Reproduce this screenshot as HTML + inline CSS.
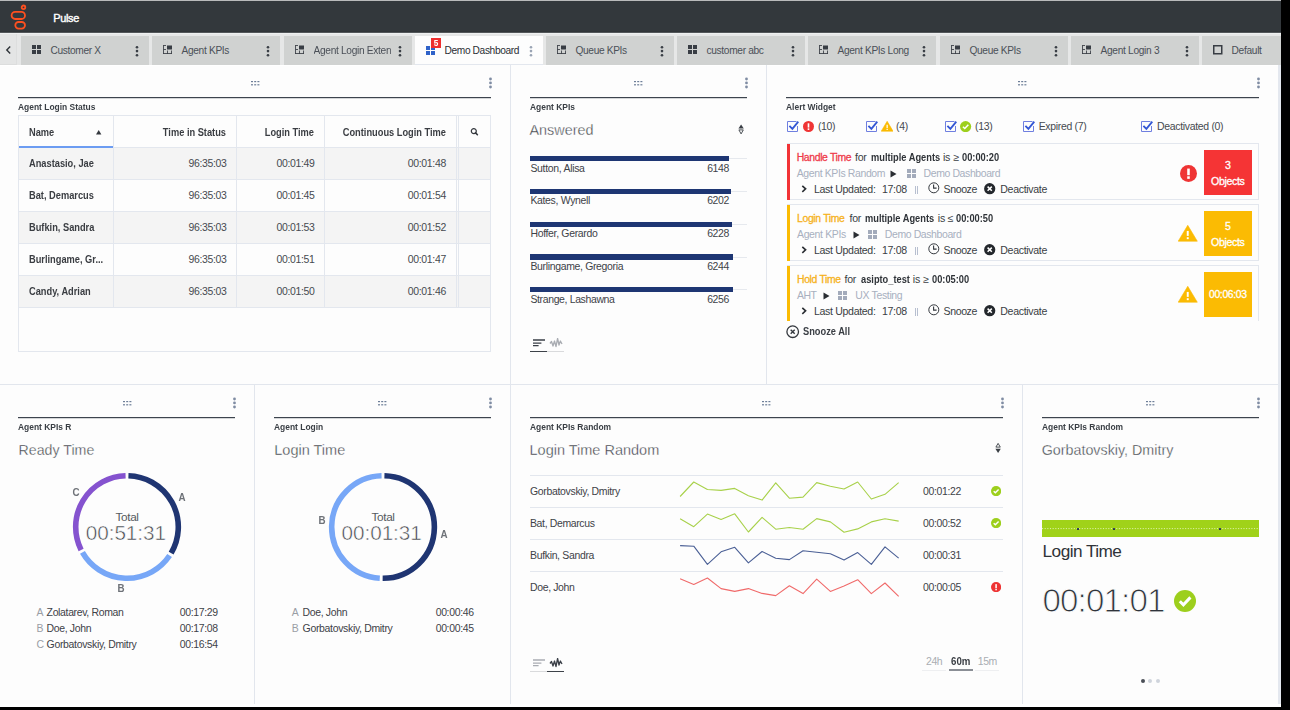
<!DOCTYPE html>
<html><head><meta charset="utf-8"><title>Pulse</title>
<style>
*{margin:0;padding:0;box-sizing:border-box}
html,body{width:1290px;height:710px;overflow:hidden;background:#000}
body{position:relative;font-family:"Liberation Sans",sans-serif}
.a{position:absolute}
.t{position:absolute;white-space:nowrap}
svg{display:block}
</style></head><body>

<div class="a" style="left:0px;top:0px;width:1281px;height:707px;background:#fdfdfd;"></div>
<div class="a" style="left:0px;top:704px;width:1281px;height:3px;background:#ffffff;"></div>
<div class="a" style="left:0px;top:0px;width:1281px;height:1px;background:#b9babb;"></div>
<div class="a" style="left:0px;top:1px;width:1281px;height:30px;background:#33383c;"></div>
<div class="a" style="left:0px;top:31px;width:1281px;height:1px;background:#303538;"></div>
<div class="a" style="left:0px;top:32px;width:1281px;height:1px;background:#53575a;"></div>
<div class="a" style="left:0px;top:33px;width:1281px;height:1px;background:#eef0f0;"></div>
<div class="a" style="left:0px;top:34px;width:1281px;height:31px;background:#e6e7e7;"></div>
<div class="a" style="left:0px;top:34px;width:17px;height:31px;background:#e4e5e5;border-right:1px solid #dddede;border-bottom:1px solid #dcdddd"></div>
<div class="a" style="left:0px;top:65px;width:1281px;height:1px;background:#ffffff;"></div>
<svg class="a" style="left:9px;top:3px;" width="20" height="29" viewBox="0 0 20 29"><g fill="none" stroke="#fe5020" stroke-width="1.8">
<circle cx="14.5" cy="4.3" r="1.8"/>
<rect x="2.6" y="8.9" width="13.4" height="7.1" rx="3.55"/>
<rect x="6.3" y="19" width="9.7" height="6.6" rx="3.3"/>
</g></svg>
<div class="t" style="left:53.30px;top:13.00px;font-size:10.97px;line-height:10.97px;color:#ffffff;letter-spacing:-0.367px;-webkit-text-stroke:0.4px #fff;">Pulse</div>
<svg class="a" style="left:5px;top:45px;" width="8" height="10" viewBox="0 0 8 10"><path d="M5.2 1.6 L1.8 5 L5.2 8.4" fill="none" stroke="#2e3338" stroke-width="1.4"/></svg>
<div class="a" style="left:21px;top:36px;width:128px;height:29px;background:#d0d2d1;"></div>
<svg class="a" style="left:32px;top:45px;" width="10" height="10" viewBox="0 0 10 10"><g fill="#383d44"><rect x="0" y="0" width="4" height="4"/><rect x="5" y="0" width="4" height="4"/><rect x="0" y="5" width="4" height="4"/><rect x="5" y="5" width="4" height="4"/></g></svg>
<div class="t" style="left:50.50px;top:46.00px;font-size:10.19px;line-height:10.19px;color:#4b5058;letter-spacing:-0.346px;">Customer X</div>
<svg class="a" style="left:135px;top:45px;" width="4" height="12" viewBox="0 0 4 12"><g fill="#3a3f46"><circle cx="2" cy="2.2" r="1.3"/><circle cx="2" cy="6.1" r="1.3"/><circle cx="2" cy="10.2" r="1.3"/></g></svg>
<div class="a" style="left:152px;top:36px;width:128px;height:29px;background:#d0d2d1;"></div>
<svg class="a" style="left:163px;top:45px;" width="10" height="10" viewBox="0 0 10 10"><g fill="none" stroke="#383d44" stroke-width="1" opacity="0.85"><path d="M0.5 0 V9 M0.5 0.5 H3 M0.5 4.5 H3 M0 8.5 H9 M4.5 5.5 V9 M8.5 5.5 V9"/></g><rect x="4" y="0.5" width="5" height="4" fill="#383d44"/></svg>
<div class="t" style="left:181.50px;top:46.00px;font-size:10.19px;line-height:10.19px;color:#4b5058;letter-spacing:-0.328px;">Agent KPIs</div>
<svg class="a" style="left:266px;top:45px;" width="4" height="12" viewBox="0 0 4 12"><g fill="#3a3f46"><circle cx="2" cy="2.2" r="1.3"/><circle cx="2" cy="6.1" r="1.3"/><circle cx="2" cy="10.2" r="1.3"/></g></svg>
<div class="a" style="left:284px;top:36px;width:128px;height:29px;background:#d0d2d1;"></div>
<svg class="a" style="left:295px;top:45px;" width="10" height="10" viewBox="0 0 10 10"><g fill="none" stroke="#383d44" stroke-width="1" opacity="0.85"><path d="M0.5 0 V9 M0.5 0.5 H3 M0.5 4.5 H3 M0 8.5 H9 M4.5 5.5 V9 M8.5 5.5 V9"/></g><rect x="4" y="0.5" width="5" height="4" fill="#383d44"/></svg>
<div class="t" style="left:313.50px;top:46.00px;font-size:10.19px;line-height:10.19px;color:#4b5058;letter-spacing:-0.315px;width:88px;overflow:hidden;-webkit-mask-image:linear-gradient(90deg,#000 85%,transparent);">Agent Login Exten</div>
<svg class="a" style="left:398px;top:45px;" width="4" height="12" viewBox="0 0 4 12"><g fill="#3a3f46"><circle cx="2" cy="2.2" r="1.3"/><circle cx="2" cy="6.1" r="1.3"/><circle cx="2" cy="10.2" r="1.3"/></g></svg>
<div class="a" style="left:415px;top:36px;width:128px;height:28px;background:#fdfdfd;"></div>
<div class="a" style="left:415px;top:64px;width:128px;height:1px;background:#e3e7ee;"></div>
<div class="a" style="left:415px;top:65px;width:128px;height:1px;background:#fdfdfd;"></div>
<svg class="a" style="left:426px;top:46px;" width="10" height="10" viewBox="0 0 10 10"><g fill="#2f62c9"><rect x="0" y="0" width="4" height="4"/><rect x="5" y="0" width="4" height="4"/><rect x="0" y="5" width="4" height="4"/><rect x="5" y="5" width="4" height="4"/></g></svg>
<div class="t" style="left:444.50px;top:46.00px;font-size:10.19px;line-height:10.19px;color:#2b2f35;letter-spacing:-0.367px;">Demo Dashboard</div>
<svg class="a" style="left:529px;top:45px;" width="4" height="12" viewBox="0 0 4 12"><g fill="#9aa4b4"><circle cx="2" cy="2.2" r="1.3"/><circle cx="2" cy="6.1" r="1.3"/><circle cx="2" cy="10.2" r="1.3"/></g></svg>
<div class="a" style="left:431px;top:38px;width:10px;height:10px;background:#ee2e2e;"></div>
<div class="t" style="left:431.00px;width:10px;text-align:center;top:39.00px;font-size:8.94px;line-height:8.94px;color:#fff;font-weight:bold;transform:scaleX(0.9217);transform-origin:center center;">5</div>
<div class="a" style="left:546px;top:36px;width:128px;height:29px;background:#d0d2d1;"></div>
<svg class="a" style="left:557px;top:45px;" width="10" height="10" viewBox="0 0 10 10"><g fill="none" stroke="#383d44" stroke-width="1" opacity="0.85"><path d="M0.5 0 V9 M0.5 0.5 H3 M0.5 4.5 H3 M0 8.5 H9 M4.5 5.5 V9 M8.5 5.5 V9"/></g><rect x="4" y="0.5" width="5" height="4" fill="#383d44"/></svg>
<div class="t" style="left:575.50px;top:46.00px;font-size:10.19px;line-height:10.19px;color:#4b5058;letter-spacing:-0.354px;">Queue KPIs</div>
<svg class="a" style="left:660px;top:45px;" width="4" height="12" viewBox="0 0 4 12"><g fill="#3a3f46"><circle cx="2" cy="2.2" r="1.3"/><circle cx="2" cy="6.1" r="1.3"/><circle cx="2" cy="10.2" r="1.3"/></g></svg>
<div class="a" style="left:677px;top:36px;width:128px;height:29px;background:#d0d2d1;"></div>
<svg class="a" style="left:688px;top:45px;" width="10" height="10" viewBox="0 0 10 10"><g fill="#383d44"><rect x="0" y="0" width="4" height="4"/><rect x="5" y="0" width="4" height="4"/><rect x="0" y="5" width="4" height="4"/><rect x="5" y="5" width="4" height="4"/></g></svg>
<div class="t" style="left:706.50px;top:46.00px;font-size:10.19px;line-height:10.19px;color:#4b5058;letter-spacing:-0.328px;">customer abc</div>
<svg class="a" style="left:791px;top:45px;" width="4" height="12" viewBox="0 0 4 12"><g fill="#3a3f46"><circle cx="2" cy="2.2" r="1.3"/><circle cx="2" cy="6.1" r="1.3"/><circle cx="2" cy="10.2" r="1.3"/></g></svg>
<div class="a" style="left:808px;top:36px;width:128px;height:29px;background:#d0d2d1;"></div>
<svg class="a" style="left:819px;top:45px;" width="10" height="10" viewBox="0 0 10 10"><g fill="none" stroke="#383d44" stroke-width="1" opacity="0.85"><path d="M0.5 0 V9 M0.5 0.5 H3 M0.5 4.5 H3 M0 8.5 H9 M4.5 5.5 V9 M8.5 5.5 V9"/></g><rect x="4" y="0.5" width="5" height="4" fill="#383d44"/></svg>
<div class="t" style="left:837.50px;top:46.00px;font-size:10.19px;line-height:10.19px;color:#4b5058;letter-spacing:-0.328px;">Agent KPIs Long</div>
<svg class="a" style="left:922px;top:45px;" width="4" height="12" viewBox="0 0 4 12"><g fill="#3a3f46"><circle cx="2" cy="2.2" r="1.3"/><circle cx="2" cy="6.1" r="1.3"/><circle cx="2" cy="10.2" r="1.3"/></g></svg>
<div class="a" style="left:940px;top:36px;width:128px;height:29px;background:#d0d2d1;"></div>
<svg class="a" style="left:951px;top:45px;" width="10" height="10" viewBox="0 0 10 10"><g fill="none" stroke="#383d44" stroke-width="1" opacity="0.85"><path d="M0.5 0 V9 M0.5 0.5 H3 M0.5 4.5 H3 M0 8.5 H9 M4.5 5.5 V9 M8.5 5.5 V9"/></g><rect x="4" y="0.5" width="5" height="4" fill="#383d44"/></svg>
<div class="t" style="left:969.50px;top:46.00px;font-size:10.19px;line-height:10.19px;color:#4b5058;letter-spacing:-0.354px;">Queue KPIs</div>
<svg class="a" style="left:1054px;top:45px;" width="4" height="12" viewBox="0 0 4 12"><g fill="#3a3f46"><circle cx="2" cy="2.2" r="1.3"/><circle cx="2" cy="6.1" r="1.3"/><circle cx="2" cy="10.2" r="1.3"/></g></svg>
<div class="a" style="left:1071px;top:36px;width:128px;height:29px;background:#d0d2d1;"></div>
<svg class="a" style="left:1082px;top:45px;" width="10" height="10" viewBox="0 0 10 10"><g fill="none" stroke="#383d44" stroke-width="1" opacity="0.85"><path d="M0.5 0 V9 M0.5 0.5 H3 M0.5 4.5 H3 M0 8.5 H9 M4.5 5.5 V9 M8.5 5.5 V9"/></g><rect x="4" y="0.5" width="5" height="4" fill="#383d44"/></svg>
<div class="t" style="left:1100.50px;top:46.00px;font-size:10.19px;line-height:10.19px;color:#4b5058;letter-spacing:-0.312px;">Agent Login 3</div>
<svg class="a" style="left:1185px;top:45px;" width="4" height="12" viewBox="0 0 4 12"><g fill="#3a3f46"><circle cx="2" cy="2.2" r="1.3"/><circle cx="2" cy="6.1" r="1.3"/><circle cx="2" cy="10.2" r="1.3"/></g></svg>
<div class="a" style="left:1202px;top:36px;width:79px;height:29px;background:#d0d2d1;"></div>
<svg class="a" style="left:1213px;top:45px;" width="10" height="10" viewBox="0 0 10 10"><rect x="0.75" y="0.75" width="8" height="8" fill="none" stroke="#383d44" stroke-width="1.5"/></svg>
<div class="t" style="left:1231.50px;top:46.00px;font-size:10.19px;line-height:10.19px;color:#4b5058;letter-spacing:-0.297px;">Default</div>
<div class="a" style="left:0px;top:384px;width:1279px;height:1px;background:#e2e6ed;"></div>
<div class="a" style="left:510px;top:65px;width:1px;height:639px;background:#e2e6ed;"></div>
<div class="a" style="left:766px;top:65px;width:1px;height:320px;background:#e2e6ed;"></div>
<div class="a" style="left:254px;top:385px;width:1px;height:319px;background:#e2e6ed;"></div>
<div class="a" style="left:1022px;top:385px;width:1px;height:319px;background:#e2e6ed;"></div>
<div class="a" style="left:1278px;top:65px;width:3px;height:639px;background:#e4e8ef;"></div>
<svg class="a" style="left:250.5px;top:80.5px;" width="9" height="5" viewBox="0 0 9 5"><g fill="#6d7e98"><rect x="0" y="0" width="2" height="1.2"/><rect x="3.2" y="0" width="2" height="1.2"/><rect x="6.4" y="0" width="2" height="1.2"/><rect x="0" y="3.2" width="2" height="1.2"/><rect x="3.2" y="3.2" width="2" height="1.2"/><rect x="6.4" y="3.2" width="2" height="1.2"/></g></svg>
<svg class="a" style="left:487.5px;top:76.5px;" width="5" height="12" viewBox="0 0 5 12"><g fill="#7f8ca3"><circle cx="2.5" cy="2" r="1.4"/><circle cx="2.5" cy="5.9" r="1.4"/><circle cx="2.5" cy="10" r="1.4"/></g></svg>
<div class="a" style="left:18px;top:97px;width:473px;height:1px;background:#3d444e;box-shadow:0 0.6px 0 rgba(61,68,78,.35)"></div>
<div class="t" style="left:18.00px;top:103.00px;font-size:9.16px;line-height:9.16px;color:#3a3f45;font-weight:bold;transform:scaleX(0.9217);transform-origin:left center;">Agent Login Status</div>
<svg class="a" style="left:634.0px;top:80.5px;" width="9" height="5" viewBox="0 0 9 5"><g fill="#6d7e98"><rect x="0" y="0" width="2" height="1.2"/><rect x="3.2" y="0" width="2" height="1.2"/><rect x="6.4" y="0" width="2" height="1.2"/><rect x="0" y="3.2" width="2" height="1.2"/><rect x="3.2" y="3.2" width="2" height="1.2"/><rect x="6.4" y="3.2" width="2" height="1.2"/></g></svg>
<svg class="a" style="left:743.5px;top:76.5px;" width="5" height="12" viewBox="0 0 5 12"><g fill="#7f8ca3"><circle cx="2.5" cy="2" r="1.4"/><circle cx="2.5" cy="5.9" r="1.4"/><circle cx="2.5" cy="10" r="1.4"/></g></svg>
<div class="a" style="left:530px;top:97px;width:217px;height:1px;background:#3d444e;box-shadow:0 0.6px 0 rgba(61,68,78,.35)"></div>
<div class="t" style="left:530.00px;top:103.00px;font-size:9.16px;line-height:9.16px;color:#3a3f45;font-weight:bold;transform:scaleX(0.9217);transform-origin:left center;">Agent KPIs</div>
<svg class="a" style="left:1018.0px;top:80.5px;" width="9" height="5" viewBox="0 0 9 5"><g fill="#6d7e98"><rect x="0" y="0" width="2" height="1.2"/><rect x="3.2" y="0" width="2" height="1.2"/><rect x="6.4" y="0" width="2" height="1.2"/><rect x="0" y="3.2" width="2" height="1.2"/><rect x="3.2" y="3.2" width="2" height="1.2"/><rect x="6.4" y="3.2" width="2" height="1.2"/></g></svg>
<svg class="a" style="left:1255.5px;top:76.5px;" width="5" height="12" viewBox="0 0 5 12"><g fill="#7f8ca3"><circle cx="2.5" cy="2" r="1.4"/><circle cx="2.5" cy="5.9" r="1.4"/><circle cx="2.5" cy="10" r="1.4"/></g></svg>
<div class="a" style="left:786px;top:97px;width:473px;height:1px;background:#3d444e;box-shadow:0 0.6px 0 rgba(61,68,78,.35)"></div>
<div class="t" style="left:786.00px;top:103.00px;font-size:9.16px;line-height:9.16px;color:#3a3f45;font-weight:bold;transform:scaleX(0.9217);transform-origin:left center;">Alert Widget</div>
<svg class="a" style="left:122.5px;top:400.5px;" width="9" height="5" viewBox="0 0 9 5"><g fill="#6d7e98"><rect x="0" y="0" width="2" height="1.2"/><rect x="3.2" y="0" width="2" height="1.2"/><rect x="6.4" y="0" width="2" height="1.2"/><rect x="0" y="3.2" width="2" height="1.2"/><rect x="3.2" y="3.2" width="2" height="1.2"/><rect x="6.4" y="3.2" width="2" height="1.2"/></g></svg>
<svg class="a" style="left:231.5px;top:396.5px;" width="5" height="12" viewBox="0 0 5 12"><g fill="#7f8ca3"><circle cx="2.5" cy="2" r="1.4"/><circle cx="2.5" cy="5.9" r="1.4"/><circle cx="2.5" cy="10" r="1.4"/></g></svg>
<div class="a" style="left:18px;top:417px;width:217px;height:1px;background:#3d444e;box-shadow:0 0.6px 0 rgba(61,68,78,.35)"></div>
<div class="t" style="left:18.00px;top:423.00px;font-size:9.16px;line-height:9.16px;color:#3a3f45;font-weight:bold;transform:scaleX(0.9217);transform-origin:left center;">Agent KPIs R</div>
<svg class="a" style="left:378.0px;top:400.5px;" width="9" height="5" viewBox="0 0 9 5"><g fill="#6d7e98"><rect x="0" y="0" width="2" height="1.2"/><rect x="3.2" y="0" width="2" height="1.2"/><rect x="6.4" y="0" width="2" height="1.2"/><rect x="0" y="3.2" width="2" height="1.2"/><rect x="3.2" y="3.2" width="2" height="1.2"/><rect x="6.4" y="3.2" width="2" height="1.2"/></g></svg>
<svg class="a" style="left:487.5px;top:396.5px;" width="5" height="12" viewBox="0 0 5 12"><g fill="#7f8ca3"><circle cx="2.5" cy="2" r="1.4"/><circle cx="2.5" cy="5.9" r="1.4"/><circle cx="2.5" cy="10" r="1.4"/></g></svg>
<div class="a" style="left:274px;top:417px;width:217px;height:1px;background:#3d444e;box-shadow:0 0.6px 0 rgba(61,68,78,.35)"></div>
<div class="t" style="left:274.00px;top:423.00px;font-size:9.16px;line-height:9.16px;color:#3a3f45;font-weight:bold;transform:scaleX(0.9217);transform-origin:left center;">Agent Login</div>
<svg class="a" style="left:762.0px;top:400.5px;" width="9" height="5" viewBox="0 0 9 5"><g fill="#6d7e98"><rect x="0" y="0" width="2" height="1.2"/><rect x="3.2" y="0" width="2" height="1.2"/><rect x="6.4" y="0" width="2" height="1.2"/><rect x="0" y="3.2" width="2" height="1.2"/><rect x="3.2" y="3.2" width="2" height="1.2"/><rect x="6.4" y="3.2" width="2" height="1.2"/></g></svg>
<svg class="a" style="left:999.5px;top:396.5px;" width="5" height="12" viewBox="0 0 5 12"><g fill="#7f8ca3"><circle cx="2.5" cy="2" r="1.4"/><circle cx="2.5" cy="5.9" r="1.4"/><circle cx="2.5" cy="10" r="1.4"/></g></svg>
<div class="a" style="left:530px;top:417px;width:473px;height:1px;background:#3d444e;box-shadow:0 0.6px 0 rgba(61,68,78,.35)"></div>
<div class="t" style="left:530.00px;top:423.00px;font-size:9.16px;line-height:9.16px;color:#3a3f45;font-weight:bold;transform:scaleX(0.9217);transform-origin:left center;">Agent KPIs Random</div>
<svg class="a" style="left:1146.0px;top:400.5px;" width="9" height="5" viewBox="0 0 9 5"><g fill="#6d7e98"><rect x="0" y="0" width="2" height="1.2"/><rect x="3.2" y="0" width="2" height="1.2"/><rect x="6.4" y="0" width="2" height="1.2"/><rect x="0" y="3.2" width="2" height="1.2"/><rect x="3.2" y="3.2" width="2" height="1.2"/><rect x="6.4" y="3.2" width="2" height="1.2"/></g></svg>
<svg class="a" style="left:1255.5px;top:396.5px;" width="5" height="12" viewBox="0 0 5 12"><g fill="#7f8ca3"><circle cx="2.5" cy="2" r="1.4"/><circle cx="2.5" cy="5.9" r="1.4"/><circle cx="2.5" cy="10" r="1.4"/></g></svg>
<div class="a" style="left:1042px;top:417px;width:217px;height:1px;background:#3d444e;box-shadow:0 0.6px 0 rgba(61,68,78,.35)"></div>
<div class="t" style="left:1042.00px;top:423.00px;font-size:9.16px;line-height:9.16px;color:#3a3f45;font-weight:bold;transform:scaleX(0.9217);transform-origin:left center;">Agent KPIs Random</div>
<div class="a" style="left:18px;top:115px;width:473px;height:237px;background:transparent;border:1px solid #e3e7ee"></div>
<div class="a" style="left:19px;top:147px;width:471px;height:1px;background:#e3e7ee;"></div>
<div class="a" style="left:19px;top:146px;width:94px;height:2px;background:#6c9cf2;"></div>
<div class="a" style="left:19px;top:148px;width:471px;height:31px;background:#f4f4f4;"></div>
<div class="a" style="left:19px;top:179px;width:471px;height:1px;background:#e3e7ee;"></div>
<div class="t" style="left:28.90px;top:159.00px;font-size:10.29px;line-height:10.29px;color:#3a3d42;font-weight:bold;transform:scaleX(0.9009);transform-origin:left center;">Anastasio, Jae</div>
<div class="t" style="left:-73.20px;width:300px;text-align:right;top:159.00px;font-size:10.47px;line-height:10.47px;color:#464a50;letter-spacing:-0.342px;margin-left:-0.342px;">96:35:03</div>
<div class="t" style="left:14.80px;width:300px;text-align:right;top:159.00px;font-size:10.47px;line-height:10.47px;color:#464a50;letter-spacing:-0.342px;margin-left:-0.342px;">00:01:49</div>
<div class="t" style="left:146.20px;width:300px;text-align:right;top:159.00px;font-size:10.47px;line-height:10.47px;color:#464a50;letter-spacing:-0.342px;margin-left:-0.342px;">00:01:48</div>
<div class="a" style="left:19px;top:211px;width:471px;height:1px;background:#e3e7ee;"></div>
<div class="t" style="left:28.90px;top:191.00px;font-size:10.29px;line-height:10.29px;color:#3a3d42;font-weight:bold;transform:scaleX(0.9009);transform-origin:left center;">Bat, Demarcus</div>
<div class="t" style="left:-73.20px;width:300px;text-align:right;top:191.00px;font-size:10.47px;line-height:10.47px;color:#464a50;letter-spacing:-0.342px;margin-left:-0.342px;">96:35:03</div>
<div class="t" style="left:14.80px;width:300px;text-align:right;top:191.00px;font-size:10.47px;line-height:10.47px;color:#464a50;letter-spacing:-0.342px;margin-left:-0.342px;">00:01:45</div>
<div class="t" style="left:146.20px;width:300px;text-align:right;top:191.00px;font-size:10.47px;line-height:10.47px;color:#464a50;letter-spacing:-0.342px;margin-left:-0.342px;">00:01:54</div>
<div class="a" style="left:19px;top:212px;width:471px;height:31px;background:#f4f4f4;"></div>
<div class="a" style="left:19px;top:243px;width:471px;height:1px;background:#e3e7ee;"></div>
<div class="t" style="left:28.90px;top:223.00px;font-size:10.29px;line-height:10.29px;color:#3a3d42;font-weight:bold;transform:scaleX(0.9009);transform-origin:left center;">Bufkin, Sandra</div>
<div class="t" style="left:-73.20px;width:300px;text-align:right;top:223.00px;font-size:10.47px;line-height:10.47px;color:#464a50;letter-spacing:-0.342px;margin-left:-0.342px;">96:35:03</div>
<div class="t" style="left:14.80px;width:300px;text-align:right;top:223.00px;font-size:10.47px;line-height:10.47px;color:#464a50;letter-spacing:-0.342px;margin-left:-0.342px;">00:01:53</div>
<div class="t" style="left:146.20px;width:300px;text-align:right;top:223.00px;font-size:10.47px;line-height:10.47px;color:#464a50;letter-spacing:-0.342px;margin-left:-0.342px;">00:01:52</div>
<div class="a" style="left:19px;top:275px;width:471px;height:1px;background:#e3e7ee;"></div>
<div class="t" style="left:28.90px;top:255.00px;font-size:10.29px;line-height:10.29px;color:#3a3d42;font-weight:bold;transform:scaleX(0.9009);transform-origin:left center;">Burlingame, Gr...</div>
<div class="t" style="left:-73.20px;width:300px;text-align:right;top:255.00px;font-size:10.47px;line-height:10.47px;color:#464a50;letter-spacing:-0.342px;margin-left:-0.342px;">96:35:03</div>
<div class="t" style="left:14.80px;width:300px;text-align:right;top:255.00px;font-size:10.47px;line-height:10.47px;color:#464a50;letter-spacing:-0.342px;margin-left:-0.342px;">00:01:51</div>
<div class="t" style="left:146.20px;width:300px;text-align:right;top:255.00px;font-size:10.47px;line-height:10.47px;color:#464a50;letter-spacing:-0.342px;margin-left:-0.342px;">00:01:47</div>
<div class="a" style="left:19px;top:276px;width:471px;height:31px;background:#f4f4f4;"></div>
<div class="a" style="left:19px;top:307px;width:471px;height:1px;background:#e3e7ee;"></div>
<div class="t" style="left:28.90px;top:287.00px;font-size:10.29px;line-height:10.29px;color:#3a3d42;font-weight:bold;transform:scaleX(0.9009);transform-origin:left center;">Candy, Adrian</div>
<div class="t" style="left:-73.20px;width:300px;text-align:right;top:287.00px;font-size:10.47px;line-height:10.47px;color:#464a50;letter-spacing:-0.342px;margin-left:-0.342px;">96:35:03</div>
<div class="t" style="left:14.80px;width:300px;text-align:right;top:287.00px;font-size:10.47px;line-height:10.47px;color:#464a50;letter-spacing:-0.342px;margin-left:-0.342px;">00:01:50</div>
<div class="t" style="left:146.20px;width:300px;text-align:right;top:287.00px;font-size:10.47px;line-height:10.47px;color:#464a50;letter-spacing:-0.342px;margin-left:-0.342px;">00:01:46</div>
<div class="a" style="left:113px;top:116px;width:1px;height:192px;background:#e3e7ee;"></div>
<div class="a" style="left:236px;top:116px;width:1px;height:192px;background:#e3e7ee;"></div>
<div class="a" style="left:324px;top:116px;width:1px;height:192px;background:#e3e7ee;"></div>
<div class="a" style="left:456px;top:116px;width:1px;height:192px;background:#e3e7ee;"></div>
<div class="a" style="left:458px;top:116px;width:1px;height:192px;background:#e3e7ee;"></div>
<div class="t" style="left:28.90px;top:128.00px;font-size:10.29px;line-height:10.29px;color:#3a3d42;font-weight:bold;transform:scaleX(0.9009);transform-origin:left center;">Name</div>
<div class="t" style="left:-73.70px;width:300px;text-align:right;top:128.00px;font-size:10.29px;line-height:10.29px;color:#3a3d42;font-weight:bold;transform:scaleX(0.9009);transform-origin:right center;">Time in Status</div>
<div class="t" style="left:14.20px;width:300px;text-align:right;top:128.00px;font-size:10.29px;line-height:10.29px;color:#3a3d42;font-weight:bold;transform:scaleX(0.9009);transform-origin:right center;">Login Time</div>
<div class="t" style="left:146.10px;width:300px;text-align:right;top:128.00px;font-size:10.29px;line-height:10.29px;color:#3a3d42;font-weight:bold;transform:scaleX(0.9009);transform-origin:right center;">Continuous Login Time</div>
<svg class="a" style="left:95.8px;top:129.8px;" width="6" height="5" viewBox="0 0 6 5"><path d="M0 4.6 L2.7 0 L5.4 4.6Z" fill="#34383e"/></svg>
<svg class="a" style="left:469px;top:126px;" width="11" height="11" viewBox="0 0 11 11"><circle cx="4.8" cy="5.1" r="2.5" fill="none" stroke="#34383e" stroke-width="1.2"/><path d="M6.6 6.9 L8.4 8.7" stroke="#34383e" stroke-width="1.6" stroke-linecap="round"/></svg>
<div class="t" style="left:529.50px;top:123.00px;font-size:14.40px;line-height:14.40px;color:#33373d;-webkit-text-stroke:0.35px #fdfdfd;">Answered</div>
<svg class="a" style="left:738px;top:123.5px;" width="7" height="11" viewBox="0 0 7 11"><path d="M0.4 4.4 L3.1 0.4 L5.8 4.4Z" fill="#3a3f45"/><path d="M0.9 5.9 L3.1 9.9 L5.3 5.9Z" fill="none" stroke="#3a3f45" stroke-width="0.9"/></svg>
<div class="a" style="left:530px;top:158px;width:217px;height:1px;background:#e6e9ee;"></div>
<div class="a" style="left:530px;top:156.05px;width:199px;height:5.35px;background:#1e3673"></div>
<div class="t" style="left:530.40px;top:164.00px;font-size:10.47px;line-height:10.47px;color:#3e4248;letter-spacing:-0.304px;">Sutton, Alisa</div>
<div class="t" style="left:429.30px;width:300px;text-align:right;top:164.00px;font-size:10.47px;line-height:10.47px;color:#3e4248;letter-spacing:-0.391px;margin-left:-0.391px;">6148</div>
<div class="a" style="left:530px;top:191px;width:217px;height:1px;background:#e6e9ee;"></div>
<div class="a" style="left:530px;top:188.80px;width:201px;height:5.35px;background:#1e3673"></div>
<div class="t" style="left:530.40px;top:196.00px;font-size:10.47px;line-height:10.47px;color:#3e4248;letter-spacing:-0.330px;">Kates, Wynell</div>
<div class="t" style="left:429.30px;width:300px;text-align:right;top:196.00px;font-size:10.47px;line-height:10.47px;color:#3e4248;letter-spacing:-0.391px;margin-left:-0.391px;">6202</div>
<div class="a" style="left:530px;top:224px;width:217px;height:1px;background:#e6e9ee;"></div>
<div class="a" style="left:530px;top:221.55px;width:202px;height:5.35px;background:#1e3673"></div>
<div class="t" style="left:530.40px;top:229.00px;font-size:10.47px;line-height:10.47px;color:#3e4248;letter-spacing:-0.322px;">Hoffer, Gerardo</div>
<div class="t" style="left:429.30px;width:300px;text-align:right;top:229.00px;font-size:10.47px;line-height:10.47px;color:#3e4248;letter-spacing:-0.391px;margin-left:-0.391px;">6228</div>
<div class="a" style="left:530px;top:257px;width:217px;height:1px;background:#e6e9ee;"></div>
<div class="a" style="left:530px;top:254.30px;width:202.5px;height:5.35px;background:#1e3673"></div>
<div class="t" style="left:530.40px;top:262.00px;font-size:10.47px;line-height:10.47px;color:#3e4248;letter-spacing:-0.334px;">Burlingame, Gregoria</div>
<div class="t" style="left:429.30px;width:300px;text-align:right;top:262.00px;font-size:10.47px;line-height:10.47px;color:#3e4248;letter-spacing:-0.391px;margin-left:-0.391px;">6244</div>
<div class="a" style="left:530px;top:289px;width:217px;height:1px;background:#e6e9ee;"></div>
<div class="a" style="left:530px;top:287.05px;width:202.5px;height:5.35px;background:#1e3673"></div>
<div class="t" style="left:530.40px;top:295.00px;font-size:10.47px;line-height:10.47px;color:#3e4248;letter-spacing:-0.356px;">Strange, Lashawna</div>
<div class="t" style="left:429.30px;width:300px;text-align:right;top:295.00px;font-size:10.47px;line-height:10.47px;color:#3e4248;letter-spacing:-0.391px;margin-left:-0.391px;">6256</div>
<svg class="a" style="left:532px;top:338.9px;" width="14" height="8" viewBox="0 0 14 8"><g stroke="#3a3f47" stroke-width="1.3"><path d="M1 1 H13 M1 4.2 H9.4 M1 6.7 H6.6"/></g></svg>
<svg class="a" style="left:549px;top:337.9px;" width="15" height="10" viewBox="0 0 15 10"><path d="M1 5.5 L2.5 3.5 L4 8 L5.5 3 L7 8.5 L8.6 0.5 L10 7 L11.4 3 L13 6" fill="none" stroke="#a9acb2" stroke-width="1.3" stroke-linejoin="round"/></svg>
<div class="a" style="left:530px;top:350.5px;width:17px;height:1.3px;background:#3d4249;"></div>
<div class="a" style="left:547px;top:350.5px;width:17px;height:1.3px;background:#d9dadc;"></div>
<svg class="a" style="left:787px;top:121.2px;" width="12" height="11" viewBox="0 0 12 11"><path d="M9.5 0.5 H0.5 V10.5 H10.5 V5" fill="none" stroke="#6f7fe0" stroke-width="1"/><path d="M2.4 4.8 L5.4 7.9 L11.3 0.6" fill="none" stroke="#3457d5" stroke-width="1.8"/></svg>
<svg class="a" style="left:803.1px;top:120.8px;" width="11.0" height="11.0" viewBox="0 0 11.0 11.0"><circle cx="5.5" cy="5.5" r="5.5" fill="#ef3434"/><rect x="4.67" y="2.31" width="1.65" height="4.29" fill="#fff"/><rect x="4.67" y="7.32" width="1.65" height="1.65" fill="#fff"/></svg>
<div class="t" style="left:817.90px;top:122.00px;font-size:10.47px;line-height:10.47px;color:#464a50;letter-spacing:-0.313px;">(10)</div>
<svg class="a" style="left:865.7px;top:121.2px;" width="12" height="11" viewBox="0 0 12 11"><path d="M9.5 0.5 H0.5 V10.5 H10.5 V5" fill="none" stroke="#6f7fe0" stroke-width="1"/><path d="M2.4 4.8 L5.4 7.9 L11.3 0.6" fill="none" stroke="#3457d5" stroke-width="1.8"/></svg>
<svg class="a" style="left:881px;top:121px;" width="12.3" height="10.5" viewBox="0 0 12.3 10.5"><path d="M6.15 0.3 L12.100000000000001 10.2 L0.2 10.2 Z" fill="#fbbb03" stroke="#fbbb03" stroke-width="0.6" stroke-linejoin="round"/><path d="M6.15 3.78 V6.93" stroke="#fff" stroke-width="1.23"/><rect x="5.54" y="7.77" width="1.23" height="1.23" fill="#fff"/></svg>
<div class="t" style="left:896.00px;top:122.00px;font-size:10.47px;line-height:10.47px;color:#464a50;letter-spacing:-0.286px;">(4)</div>
<svg class="a" style="left:944.5px;top:121.2px;" width="12" height="11" viewBox="0 0 12 11"><path d="M9.5 0.5 H0.5 V10.5 H10.5 V5" fill="none" stroke="#6f7fe0" stroke-width="1"/><path d="M2.4 4.8 L5.4 7.9 L11.3 0.6" fill="none" stroke="#3457d5" stroke-width="1.8"/></svg>
<svg class="a" style="left:960.4px;top:120.7px;" width="11.2" height="11.2" viewBox="0 0 11.2 11.2"><circle cx="5.6" cy="5.6" r="5.6" fill="#9dcf1d"/><path d="M2.95 5.70 L4.79 7.53 L8.35 3.77" fill="none" stroke="#fff" stroke-width="1.53"/></svg>
<div class="t" style="left:975.00px;top:122.00px;font-size:10.47px;line-height:10.47px;color:#464a50;letter-spacing:-0.313px;">(13)</div>
<svg class="a" style="left:1023px;top:121.2px;" width="12" height="11" viewBox="0 0 12 11"><path d="M9.5 0.5 H0.5 V10.5 H10.5 V5" fill="none" stroke="#6f7fe0" stroke-width="1"/><path d="M2.4 4.8 L5.4 7.9 L11.3 0.6" fill="none" stroke="#3457d5" stroke-width="1.8"/></svg>
<div class="t" style="left:1038.70px;top:122.00px;font-size:10.47px;line-height:10.47px;color:#464a50;letter-spacing:-0.313px;">Expired (7)</div>
<svg class="a" style="left:1141.4px;top:121.2px;" width="12" height="11" viewBox="0 0 12 11"><path d="M9.5 0.5 H0.5 V10.5 H10.5 V5" fill="none" stroke="#6f7fe0" stroke-width="1"/><path d="M2.4 4.8 L5.4 7.9 L11.3 0.6" fill="none" stroke="#3457d5" stroke-width="1.8"/></svg>
<div class="t" style="left:1157.00px;top:122.00px;font-size:10.47px;line-height:10.47px;color:#464a50;letter-spacing:-0.318px;">Deactivated (0)</div>
<div class="a" style="left:787px;top:143px;width:472px;height:57px;background:#fdfdfd;border:1px solid #e3e7ee;"></div>
<div class="a" style="left:787px;top:144px;width:3px;height:56px;background:#f23336;"></div>
<div class="t" style="left:796.70px;top:153.00px;font-size:10.41px;line-height:10.41px;color:#ef3b4a;letter-spacing:-0.352px;-webkit-text-stroke:0.3px #ef3b4a;">Handle Time</div>
<div class="t" style="left:855.00px;top:152.00px;font-size:10.58px;line-height:10.58px;color:#3a3e44;letter-spacing:-0.274px;">for</div>
<div class="t" style="left:871.00px;top:153.00px;font-size:10.29px;line-height:10.29px;color:#2f3338;font-weight:bold;transform:scaleX(0.9009);transform-origin:left center;">multiple Agents</div>
<div class="t" style="left:943.00px;top:152.00px;font-size:10.58px;line-height:10.58px;color:#3a3e44;letter-spacing:-0.254px;">is</div>
<div class="t" style="left:953.50px;top:152.00px;font-size:10.58px;line-height:10.58px;color:#3a3e44;letter-spacing:-0.386px;">≥</div>
<div class="t" style="left:962.00px;top:153.00px;font-size:10.29px;line-height:10.29px;color:#2f3338;font-weight:bold;transform:scaleX(0.9009);transform-origin:left center;">00:00:20</div>
<div class="t" style="left:796.70px;top:169.00px;font-size:10.47px;line-height:10.47px;color:#a8b0bf;letter-spacing:-0.375px;">Agent KPIs Random</div>
<svg class="a" style="left:890.4px;top:170px;" width="7" height="8" viewBox="0 0 7 8"><path d="M0.5 0.5 L6.5 4 L0.5 7.5Z" fill="#2a2e33"/></svg>
<svg class="a" style="left:906.8px;top:169px;" width="9" height="9" viewBox="0 0 9 9"><g fill="#a3abbb"><rect x="0" y="0" width="4" height="4"/><rect x="5" y="0" width="4" height="4"/><rect x="0" y="5" width="4" height="4"/><rect x="5" y="5" width="4" height="4"/></g></svg>
<div class="t" style="left:923.60px;top:169.00px;font-size:10.47px;line-height:10.47px;color:#a8b0bf;letter-spacing:-0.394px;">Demo Dashboard</div>
<svg class="a" style="left:801px;top:185.4px;" width="6" height="8" viewBox="0 0 6 8"><path d="M1.3 0.8 L4.6 3.8 L1.3 6.8" fill="none" stroke="#2a2e33" stroke-width="1.6"/></svg>
<div class="t" style="left:814.00px;top:184.00px;font-size:10.58px;line-height:10.58px;color:#3a3e44;letter-spacing:-0.337px;">Last Updated:</div>
<div class="t" style="left:882.00px;top:184.00px;font-size:10.58px;line-height:10.58px;color:#3a3e44;letter-spacing:-0.352px;">17:08</div>
<div class="a" style="left:914.5px;top:186.0px;width:0.9px;height:8px;background:#b7bfd0;"></div>
<div class="a" style="left:916.8px;top:186.0px;width:0.9px;height:8px;background:#b7bfd0;"></div>
<svg class="a" style="left:927.5px;top:182.29999999999998px;" width="12" height="12" viewBox="0 0 12 12"><circle cx="5.8" cy="5.8" r="5" fill="none" stroke="#34383e" stroke-width="1"/><path d="M5.6 2.4 V6.1 H8.6" fill="none" stroke="#34383e" stroke-width="1.1"/></svg>
<div class="t" style="left:943.50px;top:184.00px;font-size:10.58px;line-height:10.58px;color:#3a3e44;letter-spacing:-0.397px;">Snooze</div>
<svg class="a" style="left:983.8px;top:182.6px;" width="12" height="12" viewBox="0 0 12 12"><circle cx="5.7" cy="5.7" r="5.6" fill="#24282d"/><path d="M3.6 3.6 L7.8 7.8 M7.8 3.6 L3.6 7.8" stroke="#fff" stroke-width="1.5"/></svg>
<div class="t" style="left:1000.30px;top:184.00px;font-size:10.58px;line-height:10.58px;color:#3a3e44;letter-spacing:-0.332px;">Deactivate</div>
<div class="a" style="left:1204px;top:150px;width:48px;height:45px;background:#f53435;"></div>
<div class="t" style="left:1204.00px;width:48px;text-align:center;top:160.00px;font-size:10.58px;line-height:10.58px;color:#fff;letter-spacing:-0.391px;margin-left:-0.196px;-webkit-text-stroke:0.3px #fff;">3</div>
<div class="t" style="left:1204.00px;width:48px;text-align:center;top:176.00px;font-size:10.58px;line-height:10.58px;color:#fff;letter-spacing:-0.341px;margin-left:-0.170px;-webkit-text-stroke:0.3px #fff;">Objects</div>
<svg class="a" style="left:1179.5px;top:164.5px;" width="17.0" height="17.0" viewBox="0 0 17.0 17.0"><circle cx="8.5" cy="8.5" r="8.5" fill="#ef3434"/><rect x="7.22" y="3.57" width="2.55" height="6.63" fill="#fff"/><rect x="7.22" y="11.30" width="2.55" height="2.55" fill="#fff"/></svg>
<div class="a" style="left:787px;top:204px;width:472px;height:57px;background:#fdfdfd;border:1px solid #e3e7ee;"></div>
<div class="a" style="left:787px;top:205px;width:3px;height:56px;background:#fbbb03;"></div>
<div class="t" style="left:797.00px;top:214.00px;font-size:10.41px;line-height:10.41px;color:#f6b21c;letter-spacing:-0.338px;-webkit-text-stroke:0.3px #f6b21c;">Login Time</div>
<div class="t" style="left:849.50px;top:213.00px;font-size:10.58px;line-height:10.58px;color:#3a3e44;letter-spacing:-0.274px;">for</div>
<div class="t" style="left:865.30px;top:214.00px;font-size:10.29px;line-height:10.29px;color:#2f3338;font-weight:bold;transform:scaleX(0.9009);transform-origin:left center;">multiple Agents</div>
<div class="t" style="left:937.80px;top:213.00px;font-size:10.58px;line-height:10.58px;color:#3a3e44;letter-spacing:-0.254px;">is</div>
<div class="t" style="left:947.80px;top:213.00px;font-size:10.58px;line-height:10.58px;color:#3a3e44;letter-spacing:-0.386px;">≤</div>
<div class="t" style="left:956.30px;top:214.00px;font-size:10.29px;line-height:10.29px;color:#2f3338;font-weight:bold;transform:scaleX(0.9009);transform-origin:left center;">00:00:50</div>
<div class="t" style="left:797.00px;top:230.00px;font-size:10.47px;line-height:10.47px;color:#a8b0bf;letter-spacing:-0.352px;">Agent KPIs</div>
<svg class="a" style="left:852.7px;top:231px;" width="7" height="8" viewBox="0 0 7 8"><path d="M0.5 0.5 L6.5 4 L0.5 7.5Z" fill="#2a2e33"/></svg>
<svg class="a" style="left:868px;top:230px;" width="9" height="9" viewBox="0 0 9 9"><g fill="#a3abbb"><rect x="0" y="0" width="4" height="4"/><rect x="5" y="0" width="4" height="4"/><rect x="0" y="5" width="4" height="4"/><rect x="5" y="5" width="4" height="4"/></g></svg>
<div class="t" style="left:884.80px;top:230.00px;font-size:10.47px;line-height:10.47px;color:#a8b0bf;letter-spacing:-0.394px;">Demo Dashboard</div>
<svg class="a" style="left:801px;top:246.4px;" width="6" height="8" viewBox="0 0 6 8"><path d="M1.3 0.8 L4.6 3.8 L1.3 6.8" fill="none" stroke="#2a2e33" stroke-width="1.6"/></svg>
<div class="t" style="left:814.00px;top:245.00px;font-size:10.58px;line-height:10.58px;color:#3a3e44;letter-spacing:-0.337px;">Last Updated:</div>
<div class="t" style="left:882.00px;top:245.00px;font-size:10.58px;line-height:10.58px;color:#3a3e44;letter-spacing:-0.352px;">17:08</div>
<div class="a" style="left:914.5px;top:247.0px;width:0.9px;height:8px;background:#b7bfd0;"></div>
<div class="a" style="left:916.8px;top:247.0px;width:0.9px;height:8px;background:#b7bfd0;"></div>
<svg class="a" style="left:927.5px;top:243.29999999999998px;" width="12" height="12" viewBox="0 0 12 12"><circle cx="5.8" cy="5.8" r="5" fill="none" stroke="#34383e" stroke-width="1"/><path d="M5.6 2.4 V6.1 H8.6" fill="none" stroke="#34383e" stroke-width="1.1"/></svg>
<div class="t" style="left:943.50px;top:245.00px;font-size:10.58px;line-height:10.58px;color:#3a3e44;letter-spacing:-0.397px;">Snooze</div>
<svg class="a" style="left:983.8px;top:243.6px;" width="12" height="12" viewBox="0 0 12 12"><circle cx="5.7" cy="5.7" r="5.6" fill="#24282d"/><path d="M3.6 3.6 L7.8 7.8 M7.8 3.6 L3.6 7.8" stroke="#fff" stroke-width="1.5"/></svg>
<div class="t" style="left:1000.30px;top:245.00px;font-size:10.58px;line-height:10.58px;color:#3a3e44;letter-spacing:-0.332px;">Deactivate</div>
<div class="a" style="left:1204px;top:211px;width:48px;height:45px;background:#fbbb03;"></div>
<div class="t" style="left:1204.00px;width:48px;text-align:center;top:221.00px;font-size:10.58px;line-height:10.58px;color:#fff;letter-spacing:-0.391px;margin-left:-0.196px;-webkit-text-stroke:0.3px #fff;">5</div>
<div class="t" style="left:1204.00px;width:48px;text-align:center;top:237.00px;font-size:10.58px;line-height:10.58px;color:#fff;letter-spacing:-0.341px;margin-left:-0.170px;-webkit-text-stroke:0.3px #fff;">Objects</div>
<svg class="a" style="left:1178px;top:225.3px;" width="19.5" height="16.5" viewBox="0 0 19.5 16.5"><path d="M9.75 0.3 L19.3 16.2 L0.2 16.2 Z" fill="#fbbb03" stroke="#fbbb03" stroke-width="0.6" stroke-linejoin="round"/><path d="M9.75 5.94 V10.89" stroke="#fff" stroke-width="1.95"/><rect x="8.78" y="12.21" width="1.95" height="1.95" fill="#fff"/></svg>
<div class="a" style="left:787px;top:265px;width:472px;height:56px;background:#fdfdfd;border:1px solid #e3e7ee;border-bottom:none;"></div>
<div class="a" style="left:787px;top:266px;width:3px;height:55px;background:#fbbb03;"></div>
<div class="t" style="left:797.00px;top:275.00px;font-size:10.41px;line-height:10.41px;color:#f6b21c;letter-spacing:-0.345px;-webkit-text-stroke:0.3px #f6b21c;">Hold Time</div>
<div class="t" style="left:844.50px;top:274.00px;font-size:10.58px;line-height:10.58px;color:#3a3e44;letter-spacing:-0.274px;">for</div>
<div class="t" style="left:860.70px;top:275.00px;font-size:10.29px;line-height:10.29px;color:#2f3338;font-weight:bold;transform:scaleX(0.9009);transform-origin:left center;">asipto_test</div>
<div class="t" style="left:912.80px;top:274.00px;font-size:10.58px;line-height:10.58px;color:#3a3e44;letter-spacing:-0.254px;">is</div>
<div class="t" style="left:923.30px;top:274.00px;font-size:10.58px;line-height:10.58px;color:#3a3e44;letter-spacing:-0.386px;">≥</div>
<div class="t" style="left:932.00px;top:275.00px;font-size:10.29px;line-height:10.29px;color:#2f3338;font-weight:bold;transform:scaleX(0.9009);transform-origin:left center;">00:05:00</div>
<div class="t" style="left:797.00px;top:291.00px;font-size:10.47px;line-height:10.47px;color:#a8b0bf;letter-spacing:-0.469px;">AHT</div>
<svg class="a" style="left:823px;top:292px;" width="7" height="8" viewBox="0 0 7 8"><path d="M0.5 0.5 L6.5 4 L0.5 7.5Z" fill="#2a2e33"/></svg>
<svg class="a" style="left:838.2px;top:291px;" width="9" height="9" viewBox="0 0 9 9"><g fill="#a3abbb"><rect x="0" y="0" width="4" height="4"/><rect x="5" y="0" width="4" height="4"/><rect x="0" y="5" width="4" height="4"/><rect x="5" y="5" width="4" height="4"/></g></svg>
<div class="t" style="left:855.30px;top:291.00px;font-size:10.47px;line-height:10.47px;color:#a8b0bf;letter-spacing:-0.340px;">UX Testing</div>
<svg class="a" style="left:801px;top:307.40000000000003px;" width="6" height="8" viewBox="0 0 6 8"><path d="M1.3 0.8 L4.6 3.8 L1.3 6.8" fill="none" stroke="#2a2e33" stroke-width="1.6"/></svg>
<div class="t" style="left:814.00px;top:306.00px;font-size:10.58px;line-height:10.58px;color:#3a3e44;letter-spacing:-0.337px;">Last Updated:</div>
<div class="t" style="left:882.00px;top:306.00px;font-size:10.58px;line-height:10.58px;color:#3a3e44;letter-spacing:-0.352px;">17:08</div>
<div class="a" style="left:914.5px;top:308.0px;width:0.9px;height:8px;background:#b7bfd0;"></div>
<div class="a" style="left:916.8px;top:308.0px;width:0.9px;height:8px;background:#b7bfd0;"></div>
<svg class="a" style="left:927.5px;top:304.3px;" width="12" height="12" viewBox="0 0 12 12"><circle cx="5.8" cy="5.8" r="5" fill="none" stroke="#34383e" stroke-width="1"/><path d="M5.6 2.4 V6.1 H8.6" fill="none" stroke="#34383e" stroke-width="1.1"/></svg>
<div class="t" style="left:943.50px;top:306.00px;font-size:10.58px;line-height:10.58px;color:#3a3e44;letter-spacing:-0.397px;">Snooze</div>
<svg class="a" style="left:983.8px;top:304.6px;" width="12" height="12" viewBox="0 0 12 12"><circle cx="5.7" cy="5.7" r="5.6" fill="#24282d"/><path d="M3.6 3.6 L7.8 7.8 M7.8 3.6 L3.6 7.8" stroke="#fff" stroke-width="1.5"/></svg>
<div class="t" style="left:1000.30px;top:306.00px;font-size:10.58px;line-height:10.58px;color:#3a3e44;letter-spacing:-0.332px;">Deactivate</div>
<div class="a" style="left:1204px;top:272px;width:48px;height:45px;background:#fbbb03;"></div>
<div class="t" style="left:1204.00px;width:48px;text-align:center;top:290.00px;font-size:10.36px;line-height:10.36px;color:#fff;letter-spacing:-0.335px;margin-left:-0.167px;-webkit-text-stroke:0.3px #fff;">00:06:03</div>
<svg class="a" style="left:1178px;top:286.3px;" width="19.5" height="16.5" viewBox="0 0 19.5 16.5"><path d="M9.75 0.3 L19.3 16.2 L0.2 16.2 Z" fill="#fbbb03" stroke="#fbbb03" stroke-width="0.6" stroke-linejoin="round"/><path d="M9.75 5.94 V10.89" stroke="#fff" stroke-width="1.95"/><rect x="8.78" y="12.21" width="1.95" height="1.95" fill="#fff"/></svg>
<svg class="a" style="left:785.8px;top:324.5px;" width="14" height="14" viewBox="0 0 14 14"><circle cx="6.7" cy="6.7" r="5.8" fill="none" stroke="#34383e" stroke-width="1.3"/><path d="M4.7 4.7 L8.7 8.7 M8.7 4.7 L4.7 8.7" stroke="#34383e" stroke-width="1.4"/></svg>
<div class="t" style="left:803.40px;top:327.00px;font-size:10.29px;line-height:10.29px;color:#3a3e44;font-weight:bold;transform:scaleX(0.9009);transform-origin:left center;">Snooze All</div>
<svg class="a" style="left:62.2px;top:461.70000000000005px;" width="130" height="130" viewBox="0 0 130 130"><path d="M66.43 13.72 A51.3 51.3 0 0 1 109.16 91.11" fill="none" stroke="#1f3572" stroke-width="5.6"/><path d="M107.63 93.54 A51.3 51.3 0 0 1 20.44 90.42" fill="none" stroke="#77a7f7" stroke-width="5.6"/><path d="M19.09 87.89 A51.3 51.3 0 0 1 63.57 13.72" fill="none" stroke="#8553cf" stroke-width="5.6"/></svg>
<div class="t" style="left:171.70px;width:20px;text-align:center;top:492.00px;font-size:10.86px;line-height:10.86px;color:#6e7278;font-weight:bold;transform:scaleX(0.9009);transform-origin:center center;">A</div>
<div class="t" style="left:110.50px;width:20px;text-align:center;top:583.00px;font-size:10.86px;line-height:10.86px;color:#6e7278;font-weight:bold;transform:scaleX(0.9009);transform-origin:center center;">B</div>
<div class="t" style="left:65.80px;width:20px;text-align:center;top:487.00px;font-size:10.86px;line-height:10.86px;color:#6e7278;font-weight:bold;transform:scaleX(0.9009);transform-origin:center center;">C</div>
<svg class="a" style="left:318.2px;top:461.70000000000005px;" width="130" height="130" viewBox="0 0 130 130"><path d="M66.43 13.72 A51.3 51.3 0 0 1 64.64 116.30" fill="none" stroke="#1f3572" stroke-width="5.6"/><path d="M61.78 116.20 A51.3 51.3 0 0 1 63.57 13.72" fill="none" stroke="#77a7f7" stroke-width="5.6"/></svg>
<div class="t" style="left:433.60px;width:20px;text-align:center;top:529.00px;font-size:10.86px;line-height:10.86px;color:#6e7278;font-weight:bold;transform:scaleX(0.9009);transform-origin:center center;">A</div>
<div class="t" style="left:312.30px;width:20px;text-align:center;top:515.00px;font-size:10.86px;line-height:10.86px;color:#6e7278;font-weight:bold;transform:scaleX(0.9009);transform-origin:center center;">B</div>
<div class="t" style="left:87.20px;width:80px;text-align:center;top:511.00px;font-size:11.79px;line-height:11.79px;color:#555a60;letter-spacing:-0.323px;margin-left:-0.162px;">Total</div>
<div class="t" style="left:343.20px;width:80px;text-align:center;top:511.00px;font-size:11.79px;line-height:11.79px;color:#555a60;letter-spacing:-0.323px;margin-left:-0.162px;">Total</div>
<div class="t" style="left:65.90px;width:120px;text-align:center;top:523.00px;font-size:20.70px;line-height:20.70px;color:#3c4046;letter-spacing:-0.053px;margin-left:-0.027px;-webkit-text-stroke:0.55px #fdfdfd;">00:51:31</div>
<div class="t" style="left:321.70px;width:120px;text-align:center;top:523.00px;font-size:20.70px;line-height:20.70px;color:#3c4046;letter-spacing:-0.053px;margin-left:-0.027px;-webkit-text-stroke:0.55px #fdfdfd;">00:01:31</div>
<div class="t" style="left:18.60px;top:443.00px;font-size:14.20px;line-height:14.20px;color:#33373d;-webkit-text-stroke:0.35px #fdfdfd;">Ready Time</div>
<div class="t" style="left:274.30px;top:443.00px;font-size:14.50px;line-height:14.50px;color:#33373d;-webkit-text-stroke:0.35px #fdfdfd;">Login Time</div>
<div class="t" style="left:36.40px;top:608.00px;font-size:10.47px;line-height:10.47px;color:#9a9ea5;letter-spacing:-0.469px;">A</div>
<div class="t" style="left:46.60px;top:608.00px;font-size:10.47px;line-height:10.47px;color:#3e4248;letter-spacing:-0.346px;">Zolatarev, Roman</div>
<div class="t" style="left:-81.90px;width:300px;text-align:right;top:608.00px;font-size:10.47px;line-height:10.47px;color:#3e4248;letter-spacing:-0.342px;margin-left:-0.342px;">00:17:29</div>
<div class="t" style="left:36.40px;top:624.00px;font-size:10.47px;line-height:10.47px;color:#9a9ea5;letter-spacing:-0.469px;">B</div>
<div class="t" style="left:46.60px;top:624.00px;font-size:10.47px;line-height:10.47px;color:#3e4248;letter-spacing:-0.356px;">Doe, John</div>
<div class="t" style="left:-81.90px;width:300px;text-align:right;top:624.00px;font-size:10.47px;line-height:10.47px;color:#3e4248;letter-spacing:-0.342px;margin-left:-0.342px;">00:17:08</div>
<div class="t" style="left:36.40px;top:640.00px;font-size:10.47px;line-height:10.47px;color:#9a9ea5;letter-spacing:-0.508px;">C</div>
<div class="t" style="left:46.60px;top:640.00px;font-size:10.47px;line-height:10.47px;color:#3e4248;letter-spacing:-0.324px;">Gorbatovskiy, Dmitry</div>
<div class="t" style="left:-81.90px;width:300px;text-align:right;top:640.00px;font-size:10.47px;line-height:10.47px;color:#3e4248;letter-spacing:-0.342px;margin-left:-0.342px;">00:16:54</div>
<div class="t" style="left:291.70px;top:608.00px;font-size:10.47px;line-height:10.47px;color:#9a9ea5;letter-spacing:-0.469px;">A</div>
<div class="t" style="left:302.60px;top:608.00px;font-size:10.47px;line-height:10.47px;color:#3e4248;letter-spacing:-0.356px;">Doe, John</div>
<div class="t" style="left:174.00px;width:300px;text-align:right;top:608.00px;font-size:10.47px;line-height:10.47px;color:#3e4248;letter-spacing:-0.342px;margin-left:-0.342px;">00:00:46</div>
<div class="t" style="left:291.70px;top:624.00px;font-size:10.47px;line-height:10.47px;color:#9a9ea5;letter-spacing:-0.469px;">B</div>
<div class="t" style="left:302.60px;top:624.00px;font-size:10.47px;line-height:10.47px;color:#3e4248;letter-spacing:-0.324px;">Gorbatovskiy, Dmitry</div>
<div class="t" style="left:174.00px;width:300px;text-align:right;top:624.00px;font-size:10.47px;line-height:10.47px;color:#3e4248;letter-spacing:-0.342px;margin-left:-0.342px;">00:00:45</div>
<div class="t" style="left:529.50px;top:443.00px;font-size:14.50px;line-height:14.50px;color:#33373d;-webkit-text-stroke:0.35px #fdfdfd;">Login Time Random</div>
<svg class="a" style="left:994.5px;top:442.5px;" width="7" height="11" viewBox="0 0 7 11"><path d="M0.9 4.1 L3.1 0.4 L5.3 4.1Z" fill="none" stroke="#3a3f45" stroke-width="0.9"/><path d="M0.4 5.8 L3.1 9.9 L5.8 5.8Z" fill="#3a3f45"/></svg>
<div class="a" style="left:530px;top:475px;width:473px;height:1px;background:#e3e7ee;"></div>
<div class="a" style="left:530px;top:507px;width:473px;height:1px;background:#e3e7ee;"></div>
<div class="a" style="left:530px;top:539px;width:473px;height:1px;background:#e3e7ee;"></div>
<div class="a" style="left:530px;top:571px;width:473px;height:1px;background:#e3e7ee;"></div>
<div class="t" style="left:530.00px;top:487.00px;font-size:10.47px;line-height:10.47px;color:#3e4248;letter-spacing:-0.324px;">Gorbatovskiy, Dmitry</div>
<div class="t" style="left:661.40px;width:300px;text-align:right;top:487.00px;font-size:10.47px;line-height:10.47px;color:#3e4248;letter-spacing:-0.342px;margin-left:-0.342px;">00:01:22</div>
<svg class="a" style="left:670px;top:470px;" width="240" height="135" viewBox="0 0 240 135"><polyline points="10.10,26.50 23.76,12.00 37.42,19.50 51.08,20.40 64.74,18.40 78.40,25.70 92.06,30.10 105.72,12.80 119.38,28.20 133.04,27.10 146.70,12.60 160.36,16.20 174.02,19.00 187.68,12.00 201.34,29.00 215.00,24.30 228.66,12.60" fill="none" stroke="#a8d14a" stroke-width="1.1" stroke-linejoin="round"/></svg>
<svg class="a" style="left:990.6px;top:486.09999999999997px;" width="10.2" height="10.2" viewBox="0 0 10.2 10.2"><circle cx="5.1" cy="5.1" r="5.1" fill="#9dcf1d"/><path d="M2.69 5.19 L4.36 6.86 L7.60 3.43" fill="none" stroke="#fff" stroke-width="1.39"/></svg>
<div class="t" style="left:530.00px;top:519.00px;font-size:10.47px;line-height:10.47px;color:#3e4248;letter-spacing:-0.358px;">Bat, Demarcus</div>
<div class="t" style="left:661.40px;width:300px;text-align:right;top:519.00px;font-size:10.47px;line-height:10.47px;color:#3e4248;letter-spacing:-0.342px;margin-left:-0.342px;">00:00:52</div>
<svg class="a" style="left:670px;top:470px;" width="240" height="135" viewBox="0 0 240 135"><polyline points="10.10,48.80 23.76,56.70 37.42,44.10 51.08,49.40 64.74,43.80 78.40,62.00 92.06,47.40 105.72,59.20 119.38,57.50 133.04,59.20 146.70,48.60 160.36,51.90 174.02,62.20 187.68,58.90 201.34,51.90 215.00,48.80 228.66,51.10" fill="none" stroke="#a8d14a" stroke-width="1.1" stroke-linejoin="round"/></svg>
<svg class="a" style="left:990.6px;top:518.1px;" width="10.2" height="10.2" viewBox="0 0 10.2 10.2"><circle cx="5.1" cy="5.1" r="5.1" fill="#9dcf1d"/><path d="M2.69 5.19 L4.36 6.86 L7.60 3.43" fill="none" stroke="#fff" stroke-width="1.39"/></svg>
<div class="t" style="left:530.00px;top:551.00px;font-size:10.47px;line-height:10.47px;color:#3e4248;letter-spacing:-0.329px;">Bufkin, Sandra</div>
<div class="t" style="left:661.40px;width:300px;text-align:right;top:551.00px;font-size:10.47px;line-height:10.47px;color:#3e4248;letter-spacing:-0.342px;margin-left:-0.342px;">00:00:31</div>
<svg class="a" style="left:670px;top:470px;" width="240" height="135" viewBox="0 0 240 135"><polyline points="10.10,75.60 23.76,76.20 37.42,94.30 51.08,81.80 64.74,77.30 78.40,92.90 92.06,81.50 105.72,88.20 119.38,89.60 133.04,80.70 146.70,82.30 160.36,83.70 174.02,90.10 187.68,82.60 201.34,94.30 215.00,76.80 228.66,88.20" fill="none" stroke="#4a5f95" stroke-width="1.1" stroke-linejoin="round"/></svg>
<div class="t" style="left:530.00px;top:583.00px;font-size:10.47px;line-height:10.47px;color:#3e4248;letter-spacing:-0.356px;">Doe, John</div>
<div class="t" style="left:661.40px;width:300px;text-align:right;top:583.00px;font-size:10.47px;line-height:10.47px;color:#3e4248;letter-spacing:-0.342px;margin-left:-0.342px;">00:00:05</div>
<svg class="a" style="left:670px;top:470px;" width="240" height="135" viewBox="0 0 240 135"><polyline points="10.10,108.80 23.76,114.40 37.42,108.00 51.08,118.60 64.74,121.40 78.40,118.60 92.06,123.40 105.72,125.60 119.38,115.80 133.04,123.60 146.70,109.10 160.36,121.40 174.02,116.10 187.68,109.70 201.34,123.60 215.00,113.00 228.66,126.40" fill="none" stroke="#f06a6a" stroke-width="1.1" stroke-linejoin="round"/></svg>
<svg class="a" style="left:990.6px;top:582.1px;" width="10.2" height="10.2" viewBox="0 0 10.2 10.2"><circle cx="5.1" cy="5.1" r="5.1" fill="#ee3333"/><rect x="4.33" y="2.14" width="1.53" height="3.98" fill="#fff"/><rect x="4.33" y="6.78" width="1.53" height="1.53" fill="#fff"/></svg>
<svg class="a" style="left:532px;top:658.9px;" width="14" height="8" viewBox="0 0 14 8"><g stroke="#a9acb2" stroke-width="1.3"><path d="M1 1 H13 M1 4.2 H9.4 M1 6.7 H6.6"/></g></svg>
<svg class="a" style="left:549px;top:657.9px;" width="15" height="10" viewBox="0 0 15 10"><path d="M1 5.5 L2.5 3.5 L4 8 L5.5 3 L7 8.5 L8.6 0.5 L10 7 L11.4 3 L13 6" fill="none" stroke="#3a3f47" stroke-width="1.3" stroke-linejoin="round"/></svg>
<div class="a" style="left:530px;top:670.5px;width:17px;height:1.3px;background:#d9dadc;"></div>
<div class="a" style="left:547px;top:670.5px;width:17px;height:1.3px;background:#3d4249;"></div>
<div class="t" style="left:926.00px;top:657.00px;font-size:10.47px;line-height:10.47px;color:#a9adb3;letter-spacing:-0.391px;">24h</div>
<div class="t" style="left:951.30px;top:656.00px;font-size:10.75px;line-height:10.75px;color:#3a3e44;font-weight:bold;transform:scaleX(0.9009);transform-origin:left center;">60m</div>
<div class="t" style="left:977.80px;top:657.00px;font-size:10.47px;line-height:10.47px;color:#a9adb3;letter-spacing:-0.456px;">15m</div>
<div class="a" style="left:922px;top:669.6px;width:24px;height:1px;background:#eeeff1;"></div>
<div class="a" style="left:948.5px;top:669.3px;width:24px;height:1.6px;background:#8a8e95;"></div>
<div class="a" style="left:975px;top:669.6px;width:24px;height:1px;background:#eeeff1;"></div>
<div class="t" style="left:1041.70px;top:443.00px;font-size:14.30px;line-height:14.30px;color:#33373d;-webkit-text-stroke:0.35px #fdfdfd;">Gorbatovskiy, Dmitry</div>
<div class="a" style="left:1042px;top:520px;width:217px;height:17px;background:#a0d219;"></div>
<svg class="a" style="left:1042px;top:528.3px;" width="217" height="2" viewBox="0 0 217 2"><rect x="0.00" y="0" width="1.1" height="1.1" fill="#d9ef9c"/><rect x="2.65" y="0" width="1.1" height="1.1" fill="#d9ef9c"/><rect x="5.30" y="0" width="1.1" height="1.1" fill="#d9ef9c"/><rect x="7.95" y="0" width="1.1" height="1.1" fill="#d9ef9c"/><rect x="10.60" y="0" width="1.1" height="1.1" fill="#d9ef9c"/><rect x="13.25" y="0" width="1.1" height="1.1" fill="#d9ef9c"/><rect x="15.90" y="0" width="1.1" height="1.1" fill="#d9ef9c"/><rect x="18.55" y="0" width="1.1" height="1.1" fill="#d9ef9c"/><rect x="21.20" y="0" width="1.1" height="1.1" fill="#d9ef9c"/><rect x="23.85" y="0" width="1.1" height="1.1" fill="#d9ef9c"/><rect x="26.50" y="0" width="1.1" height="1.1" fill="#d9ef9c"/><rect x="29.15" y="0" width="1.1" height="1.1" fill="#d9ef9c"/><rect x="31.80" y="0" width="1.1" height="1.1" fill="#d9ef9c"/><rect x="34.45" y="0" width="1.1" height="1.1" fill="#d9ef9c"/><rect x="37.10" y="0" width="1.1" height="1.1" fill="#d9ef9c"/><rect x="39.75" y="0" width="1.1" height="1.1" fill="#d9ef9c"/><rect x="42.40" y="0" width="1.1" height="1.1" fill="#d9ef9c"/><rect x="45.05" y="0" width="1.1" height="1.1" fill="#d9ef9c"/><rect x="47.70" y="0" width="1.1" height="1.1" fill="#d9ef9c"/><rect x="50.35" y="0" width="1.1" height="1.1" fill="#d9ef9c"/><rect x="53.00" y="0" width="1.1" height="1.1" fill="#d9ef9c"/><rect x="55.65" y="0" width="1.1" height="1.1" fill="#d9ef9c"/><rect x="58.30" y="0" width="1.1" height="1.1" fill="#d9ef9c"/><rect x="60.95" y="0" width="1.1" height="1.1" fill="#d9ef9c"/><rect x="63.60" y="0" width="1.1" height="1.1" fill="#d9ef9c"/><rect x="66.25" y="0" width="1.1" height="1.1" fill="#d9ef9c"/><rect x="68.90" y="0" width="1.1" height="1.1" fill="#d9ef9c"/><rect x="71.55" y="0" width="1.1" height="1.1" fill="#d9ef9c"/><rect x="74.20" y="0" width="1.1" height="1.1" fill="#d9ef9c"/><rect x="76.85" y="0" width="1.1" height="1.1" fill="#d9ef9c"/><rect x="79.50" y="0" width="1.1" height="1.1" fill="#d9ef9c"/><rect x="82.15" y="0" width="1.1" height="1.1" fill="#d9ef9c"/><rect x="84.80" y="0" width="1.1" height="1.1" fill="#d9ef9c"/><rect x="87.45" y="0" width="1.1" height="1.1" fill="#d9ef9c"/><rect x="90.10" y="0" width="1.1" height="1.1" fill="#d9ef9c"/><rect x="92.75" y="0" width="1.1" height="1.1" fill="#d9ef9c"/><rect x="95.40" y="0" width="1.1" height="1.1" fill="#d9ef9c"/><rect x="98.05" y="0" width="1.1" height="1.1" fill="#d9ef9c"/><rect x="100.70" y="0" width="1.1" height="1.1" fill="#d9ef9c"/><rect x="103.35" y="0" width="1.1" height="1.1" fill="#d9ef9c"/><rect x="106.00" y="0" width="1.1" height="1.1" fill="#d9ef9c"/><rect x="108.65" y="0" width="1.1" height="1.1" fill="#d9ef9c"/><rect x="111.30" y="0" width="1.1" height="1.1" fill="#d9ef9c"/><rect x="113.95" y="0" width="1.1" height="1.1" fill="#d9ef9c"/><rect x="116.60" y="0" width="1.1" height="1.1" fill="#d9ef9c"/><rect x="119.25" y="0" width="1.1" height="1.1" fill="#d9ef9c"/><rect x="121.90" y="0" width="1.1" height="1.1" fill="#d9ef9c"/><rect x="124.55" y="0" width="1.1" height="1.1" fill="#d9ef9c"/><rect x="127.20" y="0" width="1.1" height="1.1" fill="#d9ef9c"/><rect x="129.85" y="0" width="1.1" height="1.1" fill="#d9ef9c"/><rect x="132.50" y="0" width="1.1" height="1.1" fill="#d9ef9c"/><rect x="135.15" y="0" width="1.1" height="1.1" fill="#d9ef9c"/><rect x="137.80" y="0" width="1.1" height="1.1" fill="#d9ef9c"/><rect x="140.45" y="0" width="1.1" height="1.1" fill="#d9ef9c"/><rect x="143.10" y="0" width="1.1" height="1.1" fill="#d9ef9c"/><rect x="145.75" y="0" width="1.1" height="1.1" fill="#d9ef9c"/><rect x="148.40" y="0" width="1.1" height="1.1" fill="#d9ef9c"/><rect x="151.05" y="0" width="1.1" height="1.1" fill="#d9ef9c"/><rect x="153.70" y="0" width="1.1" height="1.1" fill="#d9ef9c"/><rect x="156.35" y="0" width="1.1" height="1.1" fill="#d9ef9c"/><rect x="159.00" y="0" width="1.1" height="1.1" fill="#d9ef9c"/><rect x="161.65" y="0" width="1.1" height="1.1" fill="#d9ef9c"/><rect x="164.30" y="0" width="1.1" height="1.1" fill="#d9ef9c"/><rect x="166.95" y="0" width="1.1" height="1.1" fill="#d9ef9c"/><rect x="169.60" y="0" width="1.1" height="1.1" fill="#d9ef9c"/><rect x="172.25" y="0" width="1.1" height="1.1" fill="#d9ef9c"/><rect x="174.90" y="0" width="1.1" height="1.1" fill="#d9ef9c"/><rect x="177.55" y="0" width="1.1" height="1.1" fill="#d9ef9c"/><rect x="180.20" y="0" width="1.1" height="1.1" fill="#d9ef9c"/><rect x="182.85" y="0" width="1.1" height="1.1" fill="#d9ef9c"/><rect x="185.50" y="0" width="1.1" height="1.1" fill="#d9ef9c"/><rect x="188.15" y="0" width="1.1" height="1.1" fill="#d9ef9c"/><rect x="190.80" y="0" width="1.1" height="1.1" fill="#d9ef9c"/><rect x="193.45" y="0" width="1.1" height="1.1" fill="#d9ef9c"/><rect x="196.10" y="0" width="1.1" height="1.1" fill="#d9ef9c"/><rect x="198.75" y="0" width="1.1" height="1.1" fill="#d9ef9c"/><rect x="201.40" y="0" width="1.1" height="1.1" fill="#d9ef9c"/><rect x="204.05" y="0" width="1.1" height="1.1" fill="#d9ef9c"/><rect x="206.70" y="0" width="1.1" height="1.1" fill="#d9ef9c"/><rect x="209.35" y="0" width="1.1" height="1.1" fill="#d9ef9c"/><rect x="212.00" y="0" width="1.1" height="1.1" fill="#d9ef9c"/><rect x="214.65" y="0" width="1.1" height="1.1" fill="#d9ef9c"/></svg>
<div class="a" style="left:1076.7px;top:527.8px;width:2px;height:2px;background:#263258;border-radius:0.5px"></div>
<div class="a" style="left:1112.8px;top:527.8px;width:2px;height:2px;background:#263258;border-radius:0.5px"></div>
<div class="a" style="left:1219.3px;top:527.8px;width:2px;height:2px;background:#263258;border-radius:0.5px"></div>
<div class="t" style="left:1042.60px;top:543.00px;font-size:17.23px;line-height:17.23px;color:#2f3338;letter-spacing:-0.552px;">Login Time</div>
<div class="t" style="left:1042.40px;top:584.00px;font-size:33.10px;line-height:33.10px;color:#2f343b;letter-spacing:-0.821px;-webkit-text-stroke:0.9px #fdfdfd;">00:01:01</div>
<svg class="a" style="left:1174px;top:590px;" width="22" height="22" viewBox="0 0 22 22"><circle cx="11" cy="11" r="11" fill="#9dcf1d"/><path d="M5.80 11.20 L9.40 14.80 L16.40 7.40" fill="none" stroke="#fff" stroke-width="3.00"/></svg>
<div class="a" style="left:1141px;top:679px;width:4px;height:4px;border-radius:2px;background:#4a4f57"></div>
<div class="a" style="left:1148.4px;top:679px;width:4px;height:4px;border-radius:2px;background:#cfd4dc"></div>
<div class="a" style="left:1156px;top:679px;width:4px;height:4px;border-radius:2px;background:#cfd4dc"></div>
</body></html>
